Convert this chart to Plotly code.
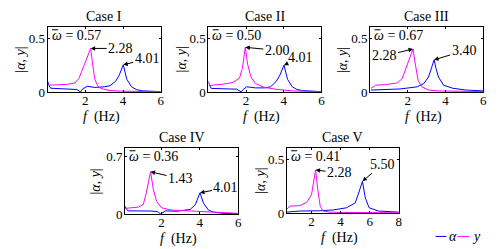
import plotly.graph_objects as go

W, H = 498, 249

# ---------------- data ----------------
cases = ["Case I", "Case II", "Case III", "Case IV", "Case V"]
omega_bar = ["0.57", "0.50", "0.67", "0.36", "0.41"]

# Case I
f1_y = [0.05, 0.2, 0.6, 1.0, 1.45, 1.65, 1.8, 2.0, 2.15, 2.28, 2.4, 2.5, 2.65, 2.8, 3.2, 3.6, 4.5, 5.2, 6.0]
y1   = [0.065, 0.065, 0.068, 0.072, 0.086, 0.125, 0.19, 0.28, 0.35, 0.405, 0.24, 0.12, 0.06, 0.036, 0.018, 0.012, 0.008, 0.006, 0.005]
f1_a = [0.0, 0.05, 0.15, 0.6, 1.2, 1.55, 1.74, 1.85, 2.1, 2.5, 3.0, 3.3, 3.6, 3.8, 4.01, 4.2, 4.45, 4.7, 5.0, 5.5, 6.0]
a1   = [0.10, 0.07, 0.037, 0.034, 0.030, 0.025, 0.003, 0.030, 0.055, 0.044, 0.050, 0.060, 0.10, 0.16, 0.253, 0.12, 0.05, 0.025, 0.013, 0.008, 0.005]

# Case II
f2_y = [0.05, 0.2, 0.8, 1.3, 1.65, 1.8, 1.96, 2.08, 2.26, 2.5, 2.96, 3.6, 4.45, 5.2, 6.0]
y2   = [0.06, 0.065, 0.075, 0.09, 0.13, 0.22, 0.415, 0.26, 0.14, 0.08, 0.045, 0.027, 0.012, 0.007, 0.005]
f2_a = [0.0, 0.05, 0.15, 0.8, 1.5, 1.74, 1.85, 2.03, 2.5, 3.0, 3.3, 3.6, 3.8, 4.01, 4.2, 4.45, 4.7, 5.0, 5.5, 6.0]
a2   = [0.10, 0.07, 0.035, 0.032, 0.028, 0.003, 0.025, 0.05, 0.04, 0.04, 0.05, 0.10, 0.16, 0.25, 0.12, 0.05, 0.025, 0.015, 0.008, 0.005]

# Case III
f3_y = [0.05, 0.2, 0.3, 0.8, 1.45, 1.7, 1.9, 2.1, 2.28, 2.4, 2.55, 2.75, 3.1, 3.6, 4.5, 6.0]
y3   = [0.036, 0.05, 0.065, 0.07, 0.086, 0.125, 0.22, 0.33, 0.40, 0.26, 0.11, 0.05, 0.02, 0.012, 0.008, 0.006]
f3_a = [0.05, 0.6, 1.6, 2.5, 2.85, 3.1, 3.25, 3.40, 3.5, 3.63, 3.9, 4.4, 5.1, 6.0]
a3   = [0.02, 0.022, 0.03, 0.05, 0.08, 0.14, 0.21, 0.30, 0.22, 0.14, 0.065, 0.036, 0.02, 0.012]

# Case IV
f4_y = [0.1, 0.3, 0.8, 1.05, 1.2, 1.43, 1.57, 1.74, 2.0, 2.5, 3.4, 4.3, 5.2, 6.0]
y4   = [0.07, 0.075, 0.086, 0.117, 0.25, 0.515, 0.31, 0.156, 0.078, 0.05, 0.04, 0.027, 0.015, 0.01]
f4_a = [0.1, 0.15, 0.25, 0.8, 1.5, 1.8, 1.96, 2.2, 2.8, 3.5, 3.77, 4.01, 4.2, 4.45, 4.7, 5.2, 6.0]
a4   = [0.097, 0.07, 0.04, 0.04, 0.038, 0.03, 0.003, 0.04, 0.035, 0.058, 0.117, 0.26, 0.13, 0.05, 0.025, 0.01, 0.005]

# Case V
f5_y = [0.3, 0.4, 0.5, 1.2, 1.67, 2.0, 2.15, 2.28, 2.42, 2.6, 2.8, 3.2, 4.0, 5.0, 6.0, 8.0]
y5   = [0.036, 0.05, 0.065, 0.07, 0.10, 0.17, 0.29, 0.40, 0.23, 0.065, 0.02, 0.01, 0.007, 0.006, 0.005, 0.004]
f5_a = [0.3, 1.2, 2.5, 3.5, 4.4, 5.0, 5.2, 5.50, 5.7, 5.96, 6.6, 7.3, 8.0]
a5   = [0.01, 0.02, 0.022, 0.03, 0.05, 0.095, 0.17, 0.295, 0.14, 0.05, 0.02, 0.013, 0.01]

freq_alpha = [f1_a, f2_a, f3_a, f4_a, f5_a]
amp_alpha = [a1, a2, a3, a4, a5]
freq_y = [f1_y, f2_y, f3_y, f4_y, f5_y]
amp_y = [y1, y2, y3, y4, y5]

# peak labels: (trace, frequency, amplitude, label)
peaks = [
    [("y", 2.28, 0.405, "2.28"), ("a", 4.01, 0.253, "4.01")],
    [("y", 1.96, 0.415, "2.00"), ("a", 4.01, 0.25, "4.01")],
    [("y", 2.28, 0.40, "2.28"), ("a", 3.40, 0.30, "3.40")],
    [("y", 1.43, 0.515, "1.43"), ("a", 4.01, 0.26, "4.01")],
    [("y", 2.28, 0.40, "2.28"), ("a", 5.50, 0.295, "5.50")],
]
# label offsets in pixels (ax, ay)
peak_offsets = [
    [(30, 0), (24, -6)],
    [(32, 3), (17, -8)],
    [(-29, 7), (30, -9)],
    [(30, 7), (26, -5)],
    [(24, 3), (20, -17)],
]

x_ranges = [[0, 6], [0, 6], [0, 6], [0.1, 6], [0.3, 8]]
y_ranges = [[0, 0.6], [0, 0.6], [0, 0.6], [0, 0.8], [0, 0.6]]
x_ticks = [[2, 4, 6], [2, 4, 6], [2, 4, 6], [2, 4, 6], [2, 4, 6, 8]]
y_ticks = [[0, 0.5], [0, 0.5], [0, 0.5], [0, 0.7], [0, 0.5]]
y_ticklabels = [["0", "0.5"], ["0", "0.5"], ["0", "0.5"], ["0", "0.7"], ["0", "0.5"]]

# ---------------- layout in pixels ----------------
boxes = [  # left, right, top, bottom
    (40, 154, 20, 87),
    (202, 316, 20, 87),
    (365, 479, 20, 87),
    (118, 232, 145, 213),
    (281, 394, 145, 212),
]
ylabel_x = [13, 175, 337, 88, 255]

BLUE = "#0000ff"
MAG = "#ff00ff"
FONT = "Liberation Serif, DejaVu Serif, serif"

fig = go.Figure()
annotations = []
shapes = []


def px(x):
    return x / W


def py(y):
    return 1 - y / H


layout = {}
for i in range(5):
    n = "" if i == 0 else str(i + 1)
    xa, ya = "x" + n, "y" + n
    L, R, T, B = boxes[i]
    fig.add_trace(go.Scatter(x=freq_alpha[i], y=amp_alpha[i], mode="lines",
                             line=dict(color=BLUE, width=1), xaxis=xa, yaxis=ya,
                             showlegend=False, name="α"))
    fig.add_trace(go.Scatter(x=freq_y[i], y=amp_y[i], mode="lines",
                             line=dict(color=MAG, width=1), xaxis=xa, yaxis=ya,
                             showlegend=False, name="y"))
    common = dict(showline=True, linecolor="black", linewidth=1, mirror="ticks",
                  ticks="inside", ticklen=2, tickcolor="black", showgrid=False,
                  zeroline=False, tickfont=dict(family=FONT, size=13, color="black"))
    layout["xaxis" + n] = dict(domain=[px(L), px(R)], range=x_ranges[i], anchor=ya,
                               tickvals=x_ticks[i], ticktext=[str(t) for t in x_ticks[i]],
                               ticklabelstandoff=-4, **common)
    layout["yaxis" + n] = dict(domain=[py(B), py(T)], range=y_ranges[i], anchor=xa,
                               tickvals=y_ticks[i], ticktext=y_ticklabels[i],
                               ticklabelstandoff=-1, **common)
    cx = (L + R) / 2
    # title
    annotations.append(dict(text=cases[i], x=px(cx), y=py(T - 11), xref="paper", yref="paper",
                            showarrow=False, font=dict(family=FONT, size=14, color="black"),
                            xanchor="center", yanchor="middle"))
    # x label
    annotations.append(dict(text="<i>f</i>  (Hz)", x=px(cx - 3), y=py(B + 26), xref="paper", yref="paper",
                            showarrow=False, font=dict(family=FONT, size=14, color="black"),
                            xanchor="center", yanchor="middle"))
    # y label
    annotations.append(dict(text="|<i>α</i>, <i>y</i>|", x=px(ylabel_x[i]), y=py((T + B) / 2),
                            xref="paper", yref="paper", textangle=-90, showarrow=False,
                            font=dict(family=FONT, size=14, color="black"),
                            xanchor="center", yanchor="middle"))
    # omega with bar
    annotations.append(dict(text="<i>ω</i> = " + omega_bar[i], x=px(L + 2), y=py(T + 8),
                            xref="paper", yref="paper", showarrow=False,
                            font=dict(family=FONT, size=14, color="black"),
                            xanchor="left", yanchor="middle"))
    shapes.append(dict(type="line", xref="paper", yref="paper", x0=px(L + 4.5), x1=px(L + 10.5),
                       y0=py(T + 2.5), y1=py(T + 2.5), line=dict(color="black", width=1)))
    # peak arrows
    for (tr, fx, fy, lab), (ax, ay) in zip(peaks[i], peak_offsets[i]):
        annotations.append(dict(text=lab, x=fx, y=fy, xref=xa, yref=ya, showarrow=True,
                                ax=ax, ay=ay, arrowhead=2, arrowsize=0.9, arrowwidth=1,
                                arrowcolor="black", standoff=0,
                                font=dict(family=FONT, size=14, color="black")))

# legend drawn at bottom right
shapes.append(dict(type="line", xref="paper", yref="paper", x0=px(431), x1=px(442),
                   y0=py(236), y1=py(236), line=dict(color=BLUE, width=1)))
shapes.append(dict(type="line", xref="paper", yref="paper", x0=px(453), x1=px(465),
                   y0=py(236), y1=py(236), line=dict(color=MAG, width=1)))
annotations.append(dict(text="<i>α</i>", x=px(443), y=py(236), xref="paper", yref="paper",
                        showarrow=False, xanchor="left", yanchor="middle",
                        font=dict(family=FONT, size=14, color="black")))
annotations.append(dict(text="<i>y</i>", x=px(466), y=py(236), xref="paper", yref="paper",
                        showarrow=False, xanchor="left", yanchor="middle",
                        font=dict(family=FONT, size=14, color="black")))

fig.update_layout(width=W, height=H, margin=dict(l=0, r=0, t=0, b=0),
                  paper_bgcolor="white", plot_bgcolor="white",
                  annotations=annotations, shapes=shapes, **layout)

fig.write_html("out.html")
